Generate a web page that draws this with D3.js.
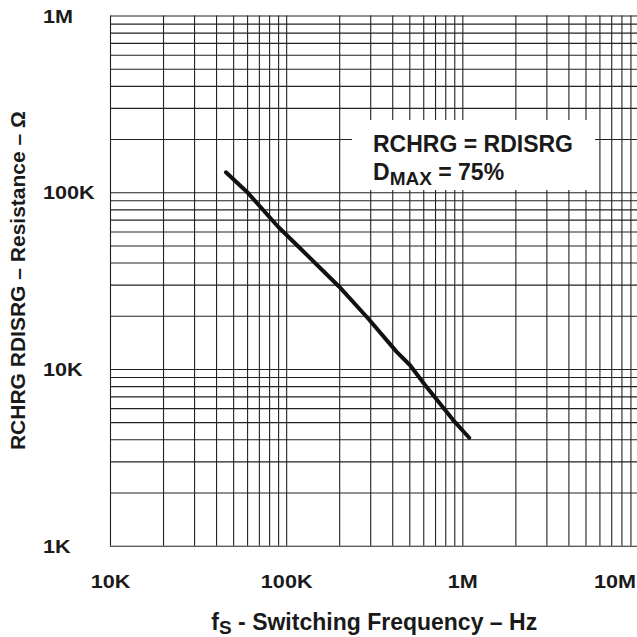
<!DOCTYPE html>
<html>
<head>
<meta charset="utf-8">
<script src="https://cdn.jsdelivr.net/npm/d3@7"></script>
<style>
  html, body { margin: 0; padding: 0; background: #fff; }
  svg { display: block; }
  text { font-family: "Liberation Sans", Arial, Helvetica, sans-serif; font-weight: bold; fill: #1a1a1a; }
</style>
</head>
<body>
<svg id="chart" width="637" height="637"></svg>
<script>
// ---- data ----
const freqHz     = [45.5e3, 61e3, 90e3, 120e3, 200e3, 292e3, 424e3, 505e3, 614e3, 887e3, 1094e3];
const resistOhm  = [129.6e3, 98.6e3, 63.8e3, 48.2e3, 29.2e3, 19.3e3, 12.5e3, 10.5e3, 8.11e3, 5.14e3, 4.08e3];
const xTickValues = [1e4, 1e5, 1e6, 1e7];
const xTickLabels = ["10K", "100K", "1M", "10M"];
const yTickValues = [1e3, 1e4, 1e5, 1e6];
const yTickLabels = ["1K", "10K", "100K", "1M"];
const xTitle = ["f", "S", " - Switching Frequency – Hz"];
const yTitle = "RCHRG RDISRG – Resistance – Ω";
const noteLine1 = "RCHRG = RDISRG";
const noteLine2 = ["D", "MAX", " = 75%"];

// ---- layout ----
const plotL = 110, plotR = 638.5, plotT = 15.5, plotB = 545.7;
const svg = d3.select("#chart");
const x = d3.scaleLog().domain([1e4, 1e7]).range([plotL, plotR]);
const y = d3.scaleLog().domain([1e3, 1e6]).range([plotB, plotT]);

function gridValues(lo, hi) {
  const out = [];
  for (let d = lo; d < hi; d *= 10) for (let k = 1; k <= 9; k++) out.push(d * k);
  out.push(hi);
  return out;
}
const gx = gridValues(1e4, 1e7);
const gy = gridValues(1e3, 1e6);

const gridColor = "#222";
// vertical grid
svg.append("g")
  .attr("transform", `translate(0,${plotB})`)
  .call(d3.axisBottom(x).tickValues(gx).tickSize(-(plotB - plotT)).tickFormat(""))
  .call(g => g.select(".domain").remove())
  .call(g => g.selectAll(".tick line").attr("stroke", gridColor).attr("stroke-width", 1.1));
// horizontal grid
svg.append("g")
  .attr("transform", `translate(${plotL},0)`)
  .call(d3.axisLeft(y).tickValues(gy).tickSize(-(plotR - plotL)).tickFormat(""))
  .call(g => g.select(".domain").remove())
  .call(g => g.selectAll(".tick line").attr("stroke", gridColor).attr("stroke-width", 1.1));

// note box (white, covering grid)
const bx0 = 352, bx1 = 595, by0 = 120, by1 = 190;
svg.append("rect").attr("x", bx0).attr("y", by0).attr("width", bx1 - bx0).attr("height", by1 - by0).attr("fill", "#fff");
svg.append("text").attr("x", 373).attr("y", 152).attr("font-size", 23).text(noteLine1);
const t2 = svg.append("text").attr("x", 373).attr("y", 180).attr("font-size", 23);
t2.append("tspan").text(noteLine2[0]);
t2.append("tspan").attr("font-size", 19).attr("dy", 5).text(noteLine2[1]);
t2.append("tspan").attr("dy", -5).text(noteLine2[2]);

// curve
svg.append("path")
  .datum(freqHz.map((f, i) => [f, resistOhm[i]]))
  .attr("fill", "none")
  .attr("stroke", "#111")
  .attr("stroke-width", 4)
  .attr("stroke-linecap", "round")
  .attr("stroke-linejoin", "round")
  .attr("d", d3.line().x(d => x(d[0])).y(d => y(d[1])));

// x tick labels
const xAx = svg.append("g")
  .attr("transform", `translate(0,${plotB})`)
  .call(d3.axisBottom(x).tickValues(xTickValues).tickSize(0).tickFormat((d, i) => xTickLabels[i]));
xAx.select(".domain").remove();
xAx.selectAll(".tick text")
  .attr("font-size", 18).attr("fill", "#1a1a1a")
  .attr("font-family", "Liberation Sans, Arial, sans-serif").attr("font-weight", "bold")
  .attr("y", 0).attr("dy", 0)
  .attr("text-anchor", (d, i) => i === xTickValues.length - 1 ? "end" : "middle")
  .attr("transform", (d, i) => `translate(${i === xTickValues.length - 1 ? -3 : 0},42) scale(1.2,1)`);

// y tick labels
const yAx = svg.append("g")
  .attr("transform", `translate(${plotL},0)`)
  .call(d3.axisLeft(y).tickValues(yTickValues).tickSize(0).tickFormat((d, i) => yTickLabels[i]));
yAx.select(".domain").remove();
yAx.selectAll(".tick text")
  .attr("font-size", 18).attr("fill", "#1a1a1a")
  .attr("font-family", "Liberation Sans, Arial, sans-serif").attr("font-weight", "bold")
  .attr("x", 0).attr("dy", 0).attr("y", 0)
  .attr("text-anchor", "start")
  .attr("transform", `translate(${43 - plotL},6.5) scale(1.2,1)`);

// x title
const xt = svg.append("text").attr("x", (plotL + plotR) / 2).attr("y", 630)
  .attr("text-anchor", "middle").attr("font-size", 23);
xt.append("tspan").text(xTitle[0]);
xt.append("tspan").attr("font-size", 19).attr("dy", 4).text(xTitle[1]);
xt.append("tspan").attr("dy", -4).text(xTitle[2]);

// y title
svg.append("text")
  .attr("transform", `translate(25,${(plotT + plotB) / 2}) rotate(-90)`)
  .attr("text-anchor", "middle").attr("font-size", 21)
  .text(yTitle);
</script>
</body>
</html>
